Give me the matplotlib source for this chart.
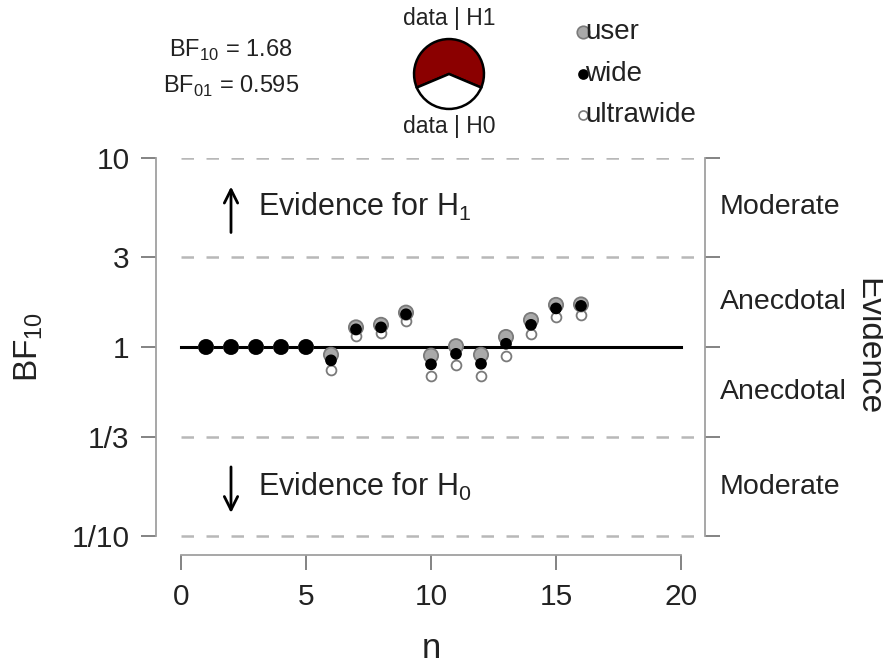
import numpy as np
import matplotlib
matplotlib.use("Agg")
import matplotlib.pyplot as plt
from matplotlib.lines import Line2D
from matplotlib.transforms import blended_transform_factory

plt.rcParams['font.family'] = ['Liberation Sans', 'DejaVu Sans']
plt.rcParams['mathtext.fontset'] = 'custom'
plt.rcParams['mathtext.rm'] = 'Liberation Sans'

# sequential Bayes factors per prior width
n = np.arange(1, 17)
bf_user = [1.0, 1.0, 1.0, 1.0, 1.0, 0.91, 1.27, 1.31, 1.52, 0.90, 1.01, 0.91, 1.13, 1.39, 1.67, 1.68]
bf_wide = [1.0, 1.0, 1.0, 1.0, 1.0, 0.85, 1.24, 1.27, 1.49, 0.81, 0.92, 0.815, 1.04, 1.31, 1.60, 1.65]
bf_ultra = [1.0, 1.0, 1.0, 1.0, 1.0, 0.755, 1.15, 1.19, 1.38, 0.70, 0.80, 0.70, 0.90, 1.17, 1.44, 1.48]
bf10 = 1.68
bf01 = 0.595

yticks = [1/10, 1/3, 1, 3, 10]
ytick_labels = ['1/10', '1/3', '1', '3', '10']
xticks = [0, 5, 10, 15, 20]
evidence_pos = [np.sqrt(30), np.sqrt(3), 1/np.sqrt(3), 1/np.sqrt(30)]
evidence_labels = ['Moderate', 'Anecdotal', 'Anecdotal', 'Moderate']

W, H = 883, 663
fig = plt.figure(figsize=(W/100, H/100), dpi=100)
TXT = '#222222'

def fx(px):
    return px / W

def fy(py):
    return 1 - py / H

ax = fig.add_axes([fx(156), fy(555), fx(705) - fx(156), fy(158) - fy(555)])
ax.set_yscale('log')
ax.set_xlim(-1, -1 + (705 - 156) / 25)
ax.set_ylim(10**(-(555 - 347) / 189), 10)

# reference lines
for v in [1/10, 1/3, 3, 10]:
    ax.plot([0, 21], [v, v], color='#b8b8b8', lw=1.8, ls=(0, (5, 5)), zorder=1)
ax.plot([0, 20], [1, 1], color='black', lw=2.2, zorder=2)

# points: ultrawide under, user, wide on top
same = [a == b for a, b in zip(bf_user, bf_wide)]
user_face = ['black' if s else '#a9a9a9' for s in same]
ax.scatter(n, bf_ultra, s=50, facecolor='white', edgecolor='#7a7a7a', lw=1.3, zorder=3)
ax.scatter(n, bf_user, s=105, facecolor=user_face, edgecolor='#7a7a7a', lw=1.3, zorder=4)
ax.scatter(n, bf_wide, s=[105 if s else 55 for s in same], facecolor='black',
           edgecolor='black', lw=1, zorder=5)

ax.spines['top'].set_visible(False)
for s in ['left', 'right', 'bottom']:
    ax.spines[s].set_color('#a0a0a0')
    ax.spines[s].set_linewidth(1.3)
ax.spines['left'].set_bounds(1/10, 10)
ax.spines['right'].set_bounds(1/10, 10)
ax.spines['bottom'].set_bounds(0, 20)

ax.set_yticks(yticks)
ax.set_yticklabels(ytick_labels)
ax.yaxis.set_minor_locator(matplotlib.ticker.NullLocator())
ax.set_xticks(xticks)
ax.tick_params(axis='both', labelsize=21.5, color='#7a7a7a', length=11, width=1.3,
               labelcolor=TXT)
ax.tick_params(axis='y', right=True, labelright=False, pad=8)
ax.tick_params(axis='x', pad=9)

fig.text(fx(431), fy(648), 'n', fontsize=25, ha='center', va='center', color=TXT)
fig.text(fx(29), fy(347), r'BF$_{\mathrm{10}}$', fontsize=24, rotation=90,
         ha='center', va='center', color=TXT)

# evidence categories on the right
tr = blended_transform_factory(ax.transAxes, ax.transData)
for v, lab in zip(evidence_pos, evidence_labels):
    ax.text((720 - 156) / (705 - 156), v, lab, transform=tr, fontsize=20.5,
            va='center', ha='left', color=TXT)
fig.text(fx(868), fy(347), 'Evidence', rotation=-90, fontsize=24,
         ha='center', va='center', color=TXT)

# direction arrows
ax.annotate('', xy=(2.0, 7.3), xytext=(2.0, 3.9),
            arrowprops=dict(arrowstyle='->', lw=2, color='black', mutation_scale=24))
ax.annotate('', xy=(2.0, 0.128), xytext=(2.0, 0.24),
            arrowprops=dict(arrowstyle='->', lw=2, color='black', mutation_scale=24))
ax.text(3.08, np.sqrt(30), r'Evidence for H$_{\mathrm{1}}$', fontsize=22,
        va='center', ha='left', color=TXT)
ax.text(3.08, 1/np.sqrt(30), r'Evidence for H$_{\mathrm{0}}$', fontsize=22,
        va='center', ha='left', color=TXT)

# BF summary
fig.text(fx(231), fy(50), r'BF$_{\mathrm{10}}$ = %.2f' % bf10, fontsize=17,
         ha='center', va='center', color=TXT)
fig.text(fx(231), fy(86), r'BF$_{\mathrm{01}}$ = %.3f' % bf01, fontsize=17,
         ha='center', va='center', color=TXT)

# probability wheel
p_h1 = bf10 / (1 + bf10)
p_h0 = 1 - p_h1
pie_ax = fig.add_axes([fx(413), fy(110), fx(72), 72 / H])
pie_ax.pie([p_h1, p_h0], colors=['#8b0000', 'white'], startangle=270 + 180 * p_h0,
           radius=1, wedgeprops=dict(edgecolor='black', linewidth=1.8))
pie_ax.set_xlim(-1.03, 1.03)
pie_ax.set_ylim(-1.03, 1.03)
pie_ax.set_aspect('equal')
fig.text(fx(449), fy(19), 'data | H1', fontsize=16.5, ha='center', va='center', color=TXT)
fig.text(fx(449), fy(127), 'data | H0', fontsize=16.5, ha='center', va='center', color=TXT)

# legend
leg_items = [('user', '#a9a9a9', '#7a7a7a', 9), ('wide', 'black', 'black', 6.5),
             ('ultrawide', 'white', '#7a7a7a', 6.5)]
for yy, (lab, fc, ec, ms) in zip([32, 74, 115], leg_items):
    fig.add_artist(Line2D([fx(583)], [fy(yy)], marker='o', markersize=ms,
                          markerfacecolor=fc, markeredgecolor=ec, markeredgewidth=1.2,
                          transform=fig.transFigure, linestyle='none'))
    fig.text(fx(585), fy(yy), lab, fontsize=20, ha='left', va='center', color=TXT)

fig.savefig('out.png', dpi=100, facecolor='white')
